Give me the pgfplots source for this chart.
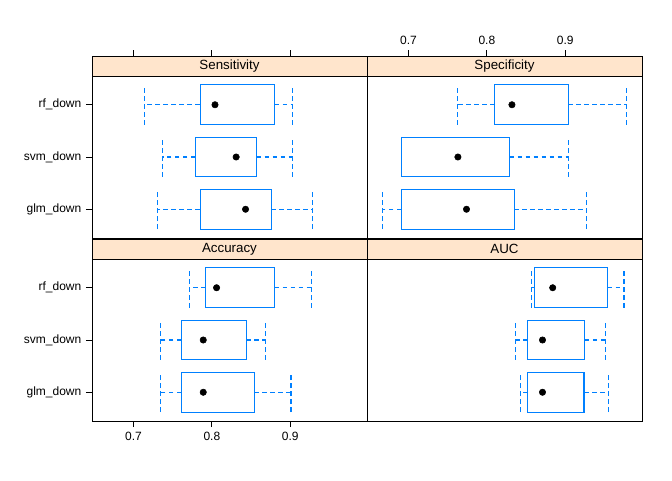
\documentclass[border=0pt]{standalone}
\usepackage{pgfplots}
\pgfplotsset{compat=1.18}
\usepgfplotslibrary{statistics}
\usepackage{fontspec}
\setmainfont{Liberation Sans}
\definecolor{boxblue}{HTML}{0080FF}
\definecolor{strip}{HTML}{FFE5CC}
\pgfplotsset{
  panel/.style={scale only axis, width=206.25pt, height=121.5pt,
    xmin=0.647, xmax=0.998, ymin=0.45, ymax=3.55, anchor=south west,
    xtick={0.7,0.8,0.9}, ytick={1,2,3}, yticklabels={}, xticklabels={},
    tick align=outside, major tick length=4.5pt, tick style={black, line width=0.6pt},
    axis line style={line width=0.6pt},
    ticklabel style={font=\fontsize{9}{10}\selectfont},
    /pgf/number format/assume math mode=true,
    boxplot/draw direction=x, boxplot/box extend=0.76, boxplot/whisker extend=0.76,
    boxplot/every box/.style={draw=boxblue, solid, line width=0.8pt},
    boxplot/every whisker/.style={draw=boxblue, dash pattern=on 3.5pt off 2.5pt, line width=0.8pt},
    boxplot/every median/.style={draw=none},
    clip=false},
  strip/.style={before end axis/.code={
    \draw[fill=strip, line width=0.6pt] (rel axis cs:0,1) rectangle ([yshift=15pt]rel axis cs:1,1);
    \node[font=\fontsize{10}{12}\selectfont] at ([yshift=7.5pt]rel axis cs:0.5,1) {#1};}},
  topticks/.style={after end axis/.code={
    \foreach \v in {0.7,0.8,0.9}{
      \draw[line width=0.6pt] ([yshift=15pt]axis cs:\v,3.55) -- ([yshift=19.5pt]axis cs:\v,3.55);
      \ifnum#1=1 \node[font=\fontsize{9}{10}\selectfont, anchor=south] at ([yshift=20pt]axis cs:\v,3.55) {\v};\fi
    }}}
}
\newcommand{\bx}[6]{\addplot[boxblue, mark=none, boxplot prepared={lower whisker=#2, lower quartile=#3, median=#4, upper quartile=#5, upper whisker=#6, draw position=#1}] coordinates {};}
\begin{document}
\begin{tikzpicture}
\path (0,0) rectangle (504pt,360pt);
% top-left Sensitivity
\begin{axis}[panel, at={(69pt,181.5pt)}, xtick=\empty, yticklabels={glm\_down,svm\_down,rf\_down}, ytick pos=left, strip=Sensitivity, topticks=0]
\bx{3}{0.714}{0.785}{0.804}{0.880}{0.903}
\bx{2}{0.737}{0.779}{0.831}{0.857}{0.903}
\bx{1}{0.731}{0.785}{0.843}{0.876}{0.928}
\addplot[only marks, mark=*, mark size=2.4pt, black] coordinates {(0.804,3)(0.831,2)(0.843,1)};
\end{axis}
% top-right Specificity
\begin{axis}[panel, at={(275.25pt,181.5pt)}, xtick=\empty, ytick=\empty, strip=Specificity, topticks=1]
\bx{3}{0.763}{0.810}{0.832}{0.904}{0.978}
\bx{2}{0.691}{0.691}{0.763}{0.829}{0.904}
\bx{1}{0.667}{0.691}{0.774}{0.835}{0.927}
\addplot[only marks, mark=*, mark size=2.4pt, black] coordinates {(0.832,3)(0.763,2)(0.774,1)};
\end{axis}
% bottom-left Accuracy
\begin{axis}[panel, at={(69pt,44.25pt)}, xtick pos=bottom, xticklabels={0.7,0.8,0.9}, yticklabels={glm\_down,svm\_down,rf\_down}, ytick pos=left, strip=Accuracy]
\bx{3}{0.771}{0.792}{0.806}{0.880}{0.927}
\bx{2}{0.734}{0.761}{0.789}{0.844}{0.868}
\bx{1}{0.734}{0.761}{0.789}{0.854}{0.901}
\addplot[only marks, mark=*, mark size=2.4pt, black] coordinates {(0.806,3)(0.789,2)(0.789,1)};
\end{axis}
% bottom-right AUC
\begin{axis}[panel, at={(275.25pt,44.25pt)}, xtick=\empty, ytick=\empty, strip=AUC]
\bx{3}{0.857}{0.861}{0.884}{0.954}{0.975}
\bx{2}{0.836}{0.852}{0.871}{0.925}{0.951}
\bx{1}{0.843}{0.852}{0.871}{0.924}{0.955}
\addplot[only marks, mark=*, mark size=2.4pt, black] coordinates {(0.884,3)(0.871,2)(0.871,1)};
\end{axis}
\end{tikzpicture}
\end{document}
